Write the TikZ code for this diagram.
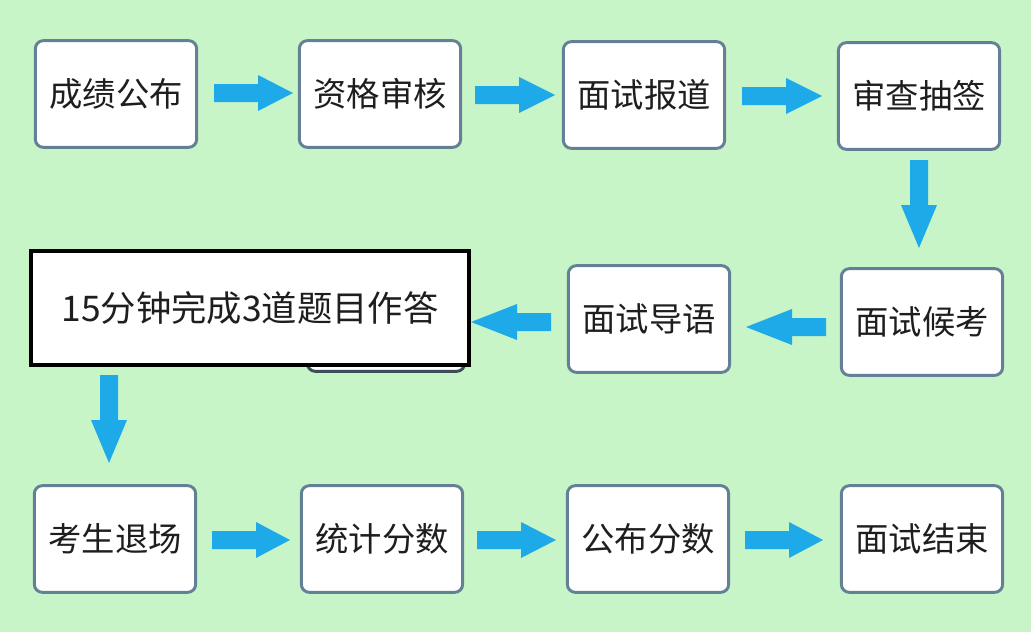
\documentclass[tikz,border=0pt]{standalone}
\usepackage{fontspec}
\newfontfamily\cjk{Noto Sans CJK SC}
\definecolor{bg}{RGB}{200,245,200}
\definecolor{arr}{RGB}{30,170,232}
\definecolor{bord}{RGB}{100,128,150}
\definecolor{txt}{RGB}{30,30,30}
\tikzset{
  stepbox/.style={draw=bord, line width=2.2pt, fill=white, rounded corners=6pt, minimum width=121pt, minimum height=80pt, font=\cjk\fontsize{25}{30}\selectfont, text=txt, inner sep=0pt},
  bigbox/.style={draw=black, line width=3.2pt, fill=white, minimum width=329pt, minimum height=86pt, font=\cjk\fontsize{26.5}{30}\selectfont, text=txt, inner sep=0pt},
  fatarrow/.style={fill=arr, draw=none}
}
\newcommand{\rarrow}[3]{% x1 x2 y
  \fill[arr] (#1,#3-9) -- (#1+44,#3-9) -- (#1+44,#3-18) -- (#2,#3) -- (#1+44,#3+18) -- (#1+44,#3+9) -- (#1,#3+9) -- cycle;}
\newcommand{\larrow}[3]{% x1(right) x2(left tip) y
  \fill[arr] (#1,#3-9) -- (#1-34,#3-9) -- (#1-34,#3-18) -- (#2,#3) -- (#1-34,#3+18) -- (#1-34,#3+9) -- (#1,#3+9) -- cycle;}
\newcommand{\darrow}[3]{% x y1 y2
  \fill[arr] (#1-9,#2) -- (#1-9,#2+45) -- (#1-18,#2+45) -- (#1,#3) -- (#1+18,#2+45) -- (#1+9,#2+45) -- (#1+9,#2) -- cycle;}
\begin{document}
\begin{tikzpicture}[x=0.75pt,y=-0.75pt]
\fill[bg] (0,0) rectangle (1031,632);
\useasboundingbox (0,0) rectangle (1031,632);
% row 1
\node[stepbox] (a1) at (116,94) {成绩公布};
\node[stepbox] (a2) at (380,94) {资格审核};
\node[stepbox] (a3) at (644,95) {面试报道};
\node[stepbox] (a4) at (919,96) {审查抽签};
% row 2
\node[stepbox, draw=bord!60!black, minimum width=118pt] (hid) at (386,318) {};
\node[bigbox] (b1) at (250,308) {15分钟完成3道题目作答};
\node[stepbox] (b2) at (649,319) {面试导语};
\node[stepbox] (b3) at (922,322) {面试候考};
% row 3
\node[stepbox] (c1) at (115,539) {考生退场};
\node[stepbox] (c2) at (382,539) {统计分数};
\node[stepbox] (c3) at (648,539) {公布分数};
\node[stepbox] (c4) at (922,539) {面试结束};
% arrows
\rarrow{214}{293}{93}
\rarrow{475}{555}{95}
\rarrow{742}{822}{96}
\darrow{919}{160}{248}
\larrow{826}{746}{327}
\larrow{551}{471}{322}
\darrow{109}{375}{463}
\rarrow{212}{290}{540}
\rarrow{477}{556}{540}
\rarrow{745}{823}{540}
\end{tikzpicture}
\end{document}
